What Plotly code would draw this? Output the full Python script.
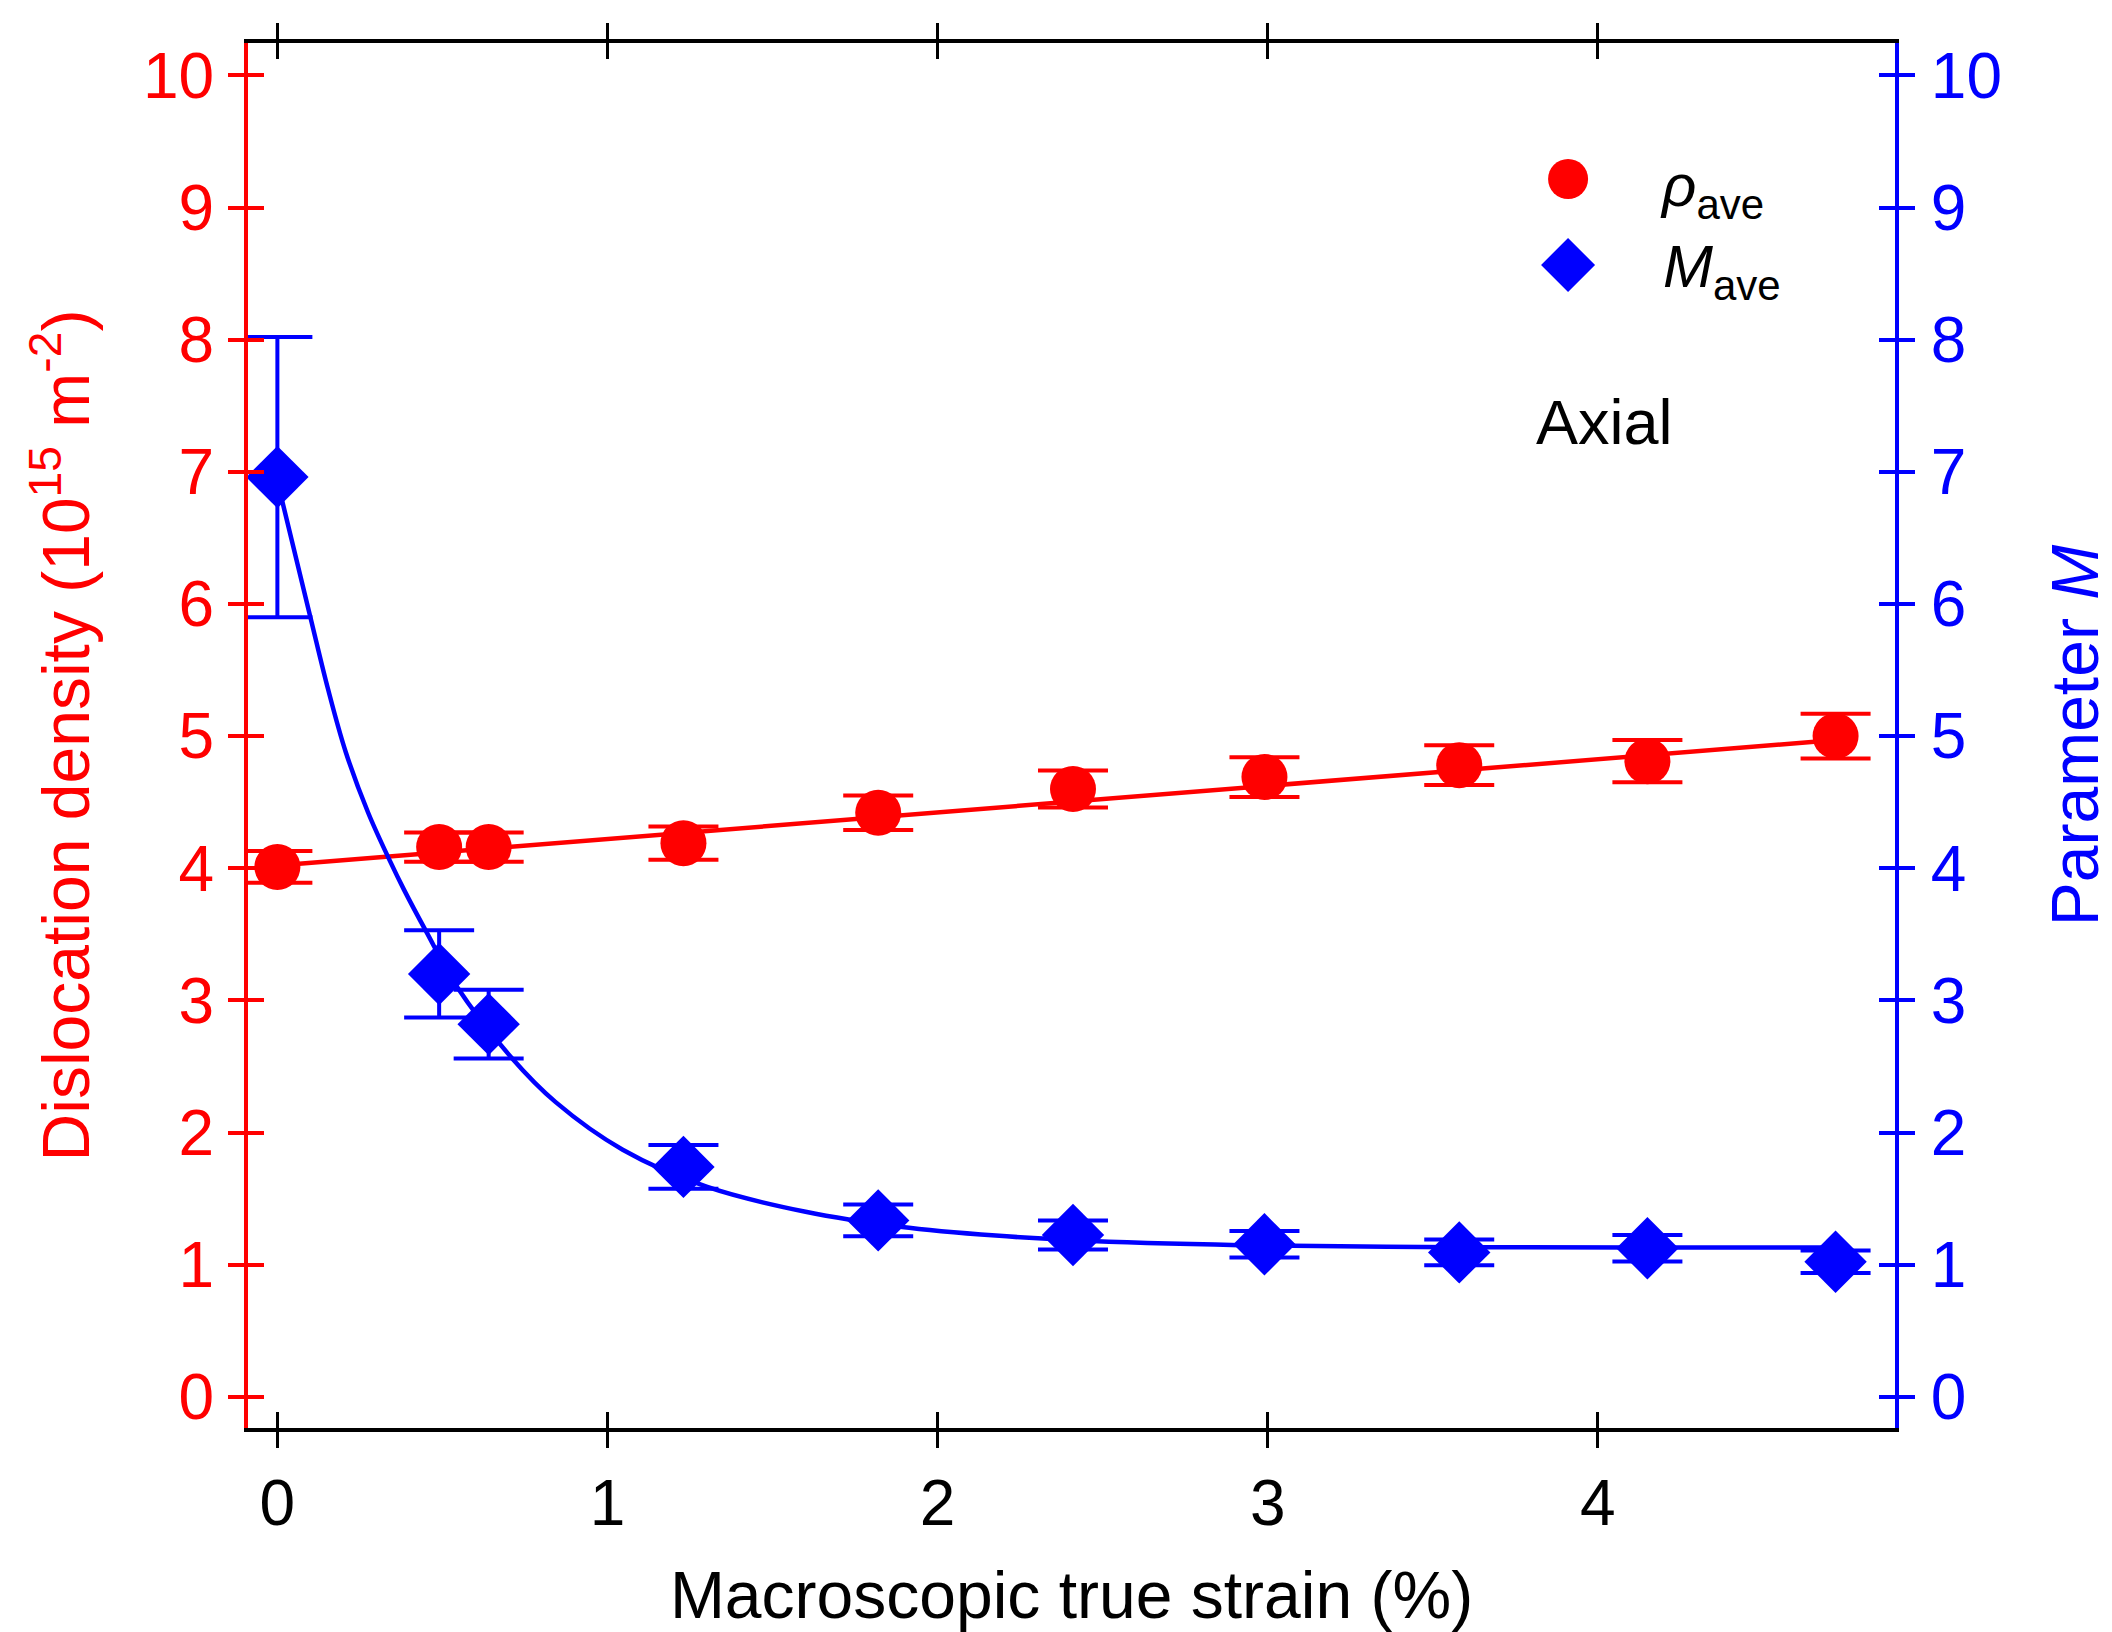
import plotly.graph_objects as go

# ---- data ----
strain = [0.0, 0.49, 0.64, 1.23, 1.82, 2.41, 2.99, 3.58, 4.15, 4.72]
rho_ave = [4.01, 4.16, 4.16, 4.19, 4.42, 4.60, 4.69, 4.78, 4.81, 5.00]
rho_err = [0.12, 0.11, 0.11, 0.125, 0.13, 0.14, 0.15, 0.15, 0.16, 0.17]
m_ave = [6.96, 3.20, 2.82, 1.74, 1.335, 1.224, 1.154, 1.093, 1.124, 1.022]
m_err = [1.06, 0.33, 0.26, 0.165, 0.12, 0.11, 0.10, 0.098, 0.10, 0.085]

rho_fit_x = [0.0, 4.72]
rho_fit_y = [4.02, 4.97]

m_fit_x = [0.0, 0.1, 0.153, 0.207, 0.275, 0.342, 0.383, 0.451, 0.545,
           0.708, 0.843, 1.046, 1.3, 1.6, 1.886, 2.176, 2.466, 2.997, 3.577, 4.15, 4.72]
m_fit_y = [6.93, 5.90, 5.36, 4.88, 4.42, 4.05, 3.84, 3.52, 3.10,
           2.57, 2.23, 1.87, 1.59, 1.40, 1.287, 1.22, 1.18, 1.145, 1.132, 1.13, 1.13]

x_ticks = [0, 1, 2, 3, 4]
y_ticks = list(range(0, 11))

X_RANGE = [-0.089, 4.90]
Y_RANGE = [-0.236, 10.245]

RED = "#ff0000"
BLUE = "#0000ff"
FONT = "Liberation Sans, Arial, Helvetica, sans-serif"
TICK_SIZE = 64
TITLE_SIZE = 66

fig = go.Figure()

# helper (empty) traces so the overlay axes carrying the inner tick halves are drawn
fig.add_trace(go.Scatter(x=[], y=[], xaxis="x2", yaxis="y", showlegend=False,
                         hoverinfo="skip"))
fig.add_trace(go.Scatter(x=[], y=[], xaxis="x", yaxis="y3", showlegend=False,
                         hoverinfo="skip"))
fig.add_trace(go.Scatter(x=[], y=[], xaxis="x", yaxis="y4", showlegend=False,
                         hoverinfo="skip"))

# M parameter (right axis)
fig.add_trace(go.Scatter(x=m_fit_x, y=m_fit_y, mode="lines", yaxis="y2",
                         line=dict(color=BLUE, width=4.5, shape="spline",
                                   smoothing=1.0),
                         showlegend=False, hoverinfo="skip"))
fig.add_trace(go.Scatter(x=strain, y=m_ave, mode="markers", yaxis="y2",
                         marker=dict(symbol="diamond", size=48, color=BLUE),
                         error_y=dict(type="data", array=m_err, color=BLUE,
                                      thickness=4, width=35),
                         showlegend=False, name="M_ave"))

# Dislocation density (left axis)
fig.add_trace(go.Scatter(x=rho_fit_x, y=rho_fit_y, mode="lines", yaxis="y",
                         line=dict(color=RED, width=4.5), showlegend=False,
                         hoverinfo="skip"))
fig.add_trace(go.Scatter(x=strain, y=rho_ave, mode="markers", yaxis="y",
                         marker=dict(symbol="circle", size=46, color=RED),
                         error_y=dict(type="data", array=rho_err, color=RED,
                                      thickness=4, width=35),
                         showlegend=False, name="rho_ave"))

common_x = dict(range=X_RANGE, tickvals=x_ticks, showgrid=False, zeroline=False,
                automargin=False)
common_y = dict(range=Y_RANGE, tickvals=y_ticks, showgrid=False, zeroline=False,
                automargin=False)

fig.update_layout(
    width=2112, height=1632,
    margin=dict(l=248, r=217, t=43, b=204, pad=0),
    paper_bgcolor="white", plot_bgcolor="white",
    font=dict(family=FONT, size=TICK_SIZE, color="black"),
    showlegend=False,
    xaxis=dict(**common_x, ticks="outside", ticklen=16, tickwidth=3,
               tickcolor="black", showline=True, linecolor="black", linewidth=4,
               mirror="ticks", tickfont=dict(size=TICK_SIZE, color="black"),
               ticklabelstandoff=0,
               title=dict(text="Macroscopic true strain (%)",
                          font=dict(size=TITLE_SIZE, color="black"), standoff=44)),
    xaxis2=dict(**common_x, overlaying="x", anchor="y", side="bottom",
                ticks="inside", ticklen=16, tickwidth=3, tickcolor="black",
                mirror="ticks", showline=False, showticklabels=False),
    yaxis=dict(**common_y, side="left", anchor="x", ticks="outside", ticklen=16,
               tickwidth=4, tickcolor=RED, showline=True, linecolor=RED,
               linewidth=4, tickfont=dict(size=TICK_SIZE, color=RED),
               ticklabelstandoff=1,
               title=dict(text="Dislocation density (10<sup>15</sup> m<sup>-2</sup>)",
                          font=dict(size=TITLE_SIZE, color=RED), standoff=33)),
    yaxis2=dict(**common_y, overlaying="y", side="right", anchor="x",
                ticks="outside", ticklen=16, tickwidth=4, tickcolor=BLUE,
                showline=True, linecolor=BLUE, linewidth=4,
                tickfont=dict(size=TICK_SIZE, color=BLUE), ticklabelstandoff=3,
                title=dict(text="Parameter <i>M</i>",
                           font=dict(size=TITLE_SIZE, color=BLUE), standoff=58)),
    yaxis3=dict(**common_y, overlaying="y", side="left", anchor="x",
                ticks="inside", ticklen=16, tickwidth=4, tickcolor=RED,
                showline=False, showticklabels=False),
    yaxis4=dict(**common_y, overlaying="y", side="right", anchor="x",
                ticks="inside", ticklen=16, tickwidth=4, tickcolor=BLUE,
                showline=False, showticklabels=False),
)

# Legend drawn as shapes + text
leg_x = 0.8015
fig.add_shape(type="circle", xref="paper", yref="paper",
              xsizemode="pixel", ysizemode="pixel", xanchor=leg_x, yanchor=0.9018,
              x0=-20, x1=20, y0=-20, y1=20, fillcolor=RED, line=dict(width=0))
fig.add_shape(type="path", xref="paper", yref="paper",
              xsizemode="pixel", ysizemode="pixel", xanchor=leg_x, yanchor=0.8397,
              path="M -27 0 L 0 27 L 27 0 L 0 -27 Z", fillcolor=BLUE,
              line=dict(width=0))
fig.add_annotation(xref="paper", yref="paper", x=0.856, y=0.894,
                   xanchor="left", yanchor="middle", showarrow=False,
                   text="<i>ρ</i><sub>ave</sub>", font=dict(size=60, color="black"))
fig.add_annotation(xref="paper", yref="paper", x=0.858, y=0.8355,
                   xanchor="left", yanchor="middle", showarrow=False,
                   text="<i>M</i><sub>ave</sub>", font=dict(size=60, color="black"))
fig.add_annotation(xref="paper", yref="paper", x=0.781, y=0.726,
                   xanchor="left", yanchor="middle", showarrow=False,
                   text="Axial", font=dict(size=63, color="black"))

fig.write_html("out.html")
